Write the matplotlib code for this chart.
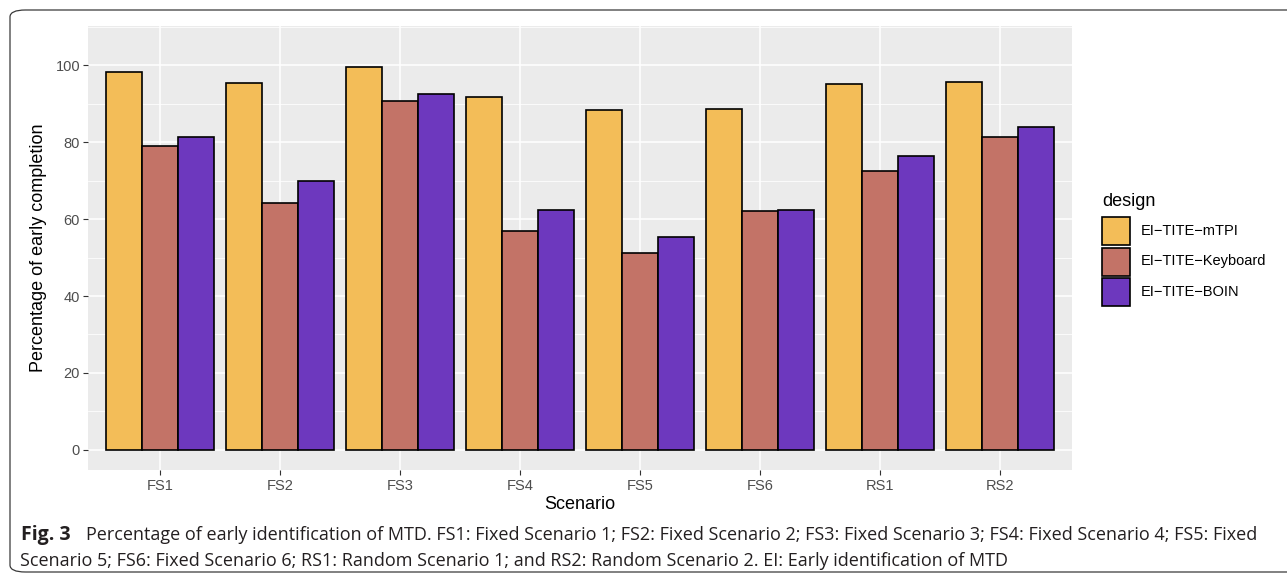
import matplotlib
matplotlib.use("Agg")
import matplotlib.pyplot as plt
from matplotlib.patches import FancyBboxPatch, Rectangle
from matplotlib import font_manager
import numpy as np

# data
scenarios = ["FS1", "FS2", "FS3", "FS4", "FS5", "FS6", "RS1", "RS2"]
designs = ["EI\u2212TITE\u2212mTPI", "EI\u2212TITE\u2212Keyboard", "EI\u2212TITE\u2212BOIN"]
mtpi = [98.2, 95.3, 99.6, 91.7, 88.5, 88.6, 95.1, 95.7]
keyboard = [79.0, 64.2, 90.8, 57.0, 51.3, 62.1, 72.5, 81.4]
boin = [81.4, 70.0, 92.6, 62.3, 55.3, 62.3, 76.5, 83.9]
colors = ["#F3BD58", "#C37367", "#6D38BE"]

caption_bold = "Fig. 3"
caption_1 = ("Percentage of early identification of MTD. FS1: Fixed Scenario 1; FS2: Fixed Scenario 2; "
             "FS3: Fixed Scenario 3; FS4: Fixed Scenario 4; FS5: Fixed")
caption_2 = ("Scenario 5; FS6: Fixed Scenario 6; RS1: Random Scenario 1; and RS2: Random Scenario 2. "
             "EI: Early identification of MTD")

W, H = 1287, 579
plt.rcParams['font.family'] = ['Liberation Sans', 'DejaVu Sans']

fig = plt.figure(figsize=(W / 100, H / 100), dpi=100)


def fx(px):
    return px / W


def fy(py):
    return 1 - py / H


# outer rounded frame
frame = FancyBboxPatch((fx(10), fy(572)), fx(1320) - fx(10), fy(10) - fy(572),
                       boxstyle="round,pad=0,rounding_size=0.012",
                       transform=fig.transFigure, fill=False,
                       edgecolor="#3a3a3a", linewidth=0.9)
fig.patches.append(frame)

ax = fig.add_axes([fx(88), fy(470), fx(1072) - fx(88), fy(26) - fy(470)])
ax.set_facecolor("#EBEBEB")
for s in ax.spines.values():
    s.set_visible(False)

x = np.arange(len(scenarios))
bw = 0.3
for i, vals in enumerate([mtpi, keyboard, boin]):
    ax.bar(x + (i - 1) * bw, vals, width=bw, color=colors[i],
           edgecolor="black", linewidth=1.2, zorder=3)

ax.set_xlim(-0.6, len(scenarios) - 0.4)
ax.set_ylim(-5.25, 110.25)
ax.set_xticks(x)
ax.set_xticklabels(scenarios)
ax.set_yticks([0, 20, 40, 60, 80, 100])
ax.set_yticks([10, 30, 50, 70, 90, 110], minor=True)
ax.grid(which="major", color="white", linewidth=1.1, zorder=0)
ax.grid(which="minor", axis="y", color="white", linewidth=0.55, zorder=0)
ax.set_axisbelow(True)
ax.tick_params(axis="both", which="major", length=3.5, width=0.8, color="#333333",
               labelcolor="#4D4D4D", labelsize=10.5)
ax.tick_params(axis="y", pad=2.2)
ax.tick_params(axis="x", pad=3)
ax.tick_params(axis="both", which="minor", length=0)
ax.set_xlabel("Scenario", fontsize=13, labelpad=2)
ax.set_ylabel("Percentage of early completion", fontsize=13, labelpad=6)

# legend drawn by hand, ggplot style
fig.text(fx(1102), fy(206), "design", fontsize=13, ha="left", va="baseline")
for i, name in enumerate(designs):
    top = 217 + i * 30.5
    fig.patches.append(Rectangle((fx(1102), fy(top + 28)), fx(28), 28 / H,
                                 transform=fig.transFigure, facecolor=colors[i],
                                 edgecolor="black", linewidth=1.2))
    fig.text(fx(1141), fy(top + 14), name, fontsize=10.5, ha="left", va="center")

# caption, sized to fit the same width as the original
names = {f.name for f in font_manager.fontManager.ttflist}
cap_font = "Liberation Sans Narrow" if "Liberation Sans Narrow" in names else "Open Sans"
start = 86
tb = fig.text(fx(21), fy(540), caption_bold, fontsize=13, fontweight="bold",
              family=cap_font, color="#231F20", va="baseline")
t1 = fig.text(fx(start), fy(540), caption_1, fontsize=13, family=cap_font,
              color="#231F20", va="baseline")
t2 = fig.text(fx(20), fy(566), caption_2, fontsize=13, family=cap_font,
              color="#231F20", va="baseline")
r = fig.canvas.get_renderer()
size = 13
for _ in range(3):
    size = size * (1260 - start) / t1.get_window_extent(r).width
    t1.set_fontsize(size)
t2.set_fontsize(size)
tb.set_fontsize(size * 1.08)

fig.savefig("out.png", dpi=100)
